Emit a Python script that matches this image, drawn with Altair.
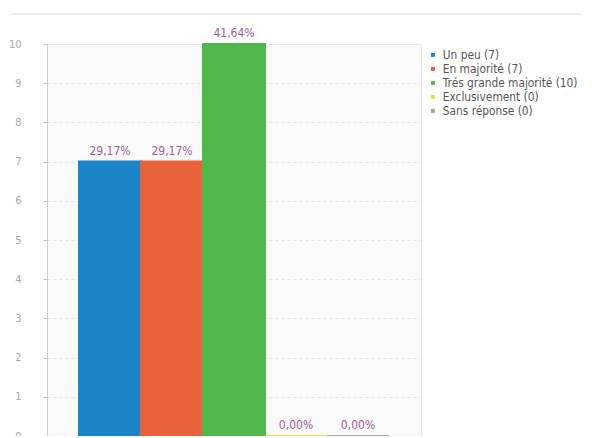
import altair as alt
import pandas as pd

categories = ["Un peu", "En majorité", "Trés grande majorité", "Exclusivement", "Sans réponse"]
counts = [7, 7, 10, 0, 0]
pct_labels = ["29,17%", "29,17%", "41,64%", "0,00%", "0,00%"]
legend_labels = ["Un peu (7)", "En majorité (7)", "Trés grande majorité (10)", "Exclusivement (0)", "Sans réponse (0)"]
colors = ["#1a86c8", "#e8633a", "#4fb84b", "#e3e43c", "#a3a3a3"]
y_ticks = [0, 1, 2, 3, 4, 5, 6, 7, 8, 9, 10]

df = pd.DataFrame({"cat": categories, "count": counts, "pct": pct_labels, "leg": legend_labels})

FONT = "'DejaVu Sans Condensed', 'Liberation Sans Narrow', 'DejaVu Sans', sans-serif"

x = alt.X("cat:N", sort=categories, axis=None,
          scale=alt.Scale(paddingInner=0, paddingOuter=0.516))
y = alt.Y("count:Q", scale=alt.Scale(domain=[0, 10], nice=False),
          axis=alt.Axis(values=y_ticks, tickCount=20, format="d", title=None, grid=True, gridDash=[3, 3],
                        gridColor="#e4e4e4", domainColor="#cfcfcf", tickColor="#bdbdbd",
                        tickSize=4, labelPadding=22, labelColor="#a8a8a8",
                        labelFontSize=11, labelFont=FONT, labelOverlap=False))

color_scale = alt.Scale(domain=legend_labels, range=colors)

bars = alt.Chart(df).mark_bar(strokeWidth=2).encode(
    x=x, y=y,
    color=alt.Color("leg:N", sort=legend_labels, scale=color_scale,
                    legend=alt.Legend(title=None, orient="none", legendX=380, legendY=5,
                                      symbolType="square", symbolSize=16, rowPadding=1,
                                      labelFontSize=11.8, labelColor="#555555", labelFont=FONT,
                                      symbolStrokeWidth=0)),
    stroke=alt.Color("leg:N", sort=legend_labels, scale=color_scale, legend=None),
)

text = alt.Chart(df).mark_text(baseline="bottom", dy=-4, fontSize=12, color="#a05a9e", font=FONT).encode(
    x=x, y=y, text="pct:N"
)

topline = alt.Chart(df).mark_rule(color="#ececec", strokeWidth=1.5).encode(
    x=alt.value(-37), x2=alt.value(545), y=alt.value(-30)
)

chart = alt.layer(topline, bars, text).properties(
    width=374, height=392,
    padding={"left": 39, "top": 36, "right": 160, "bottom": 0},
    autosize=alt.AutoSizeParams(type="none"),
).configure_view(
    fill="#fbfafa", stroke="#e6e6e6"
)

chart.save("out.html", embed_options={"renderer": "svg", "actions": False})
